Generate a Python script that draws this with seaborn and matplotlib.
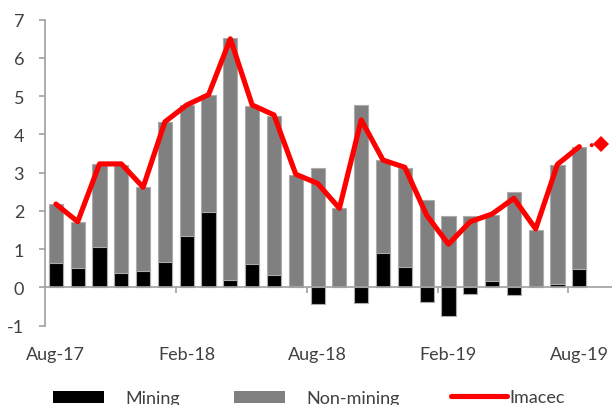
import numpy as np
import pandas as pd
import matplotlib
matplotlib.use("Agg")
import matplotlib.pyplot as plt
import seaborn as sns
from matplotlib.patches import Patch
from matplotlib.lines import Line2D

# ---- data ----
months = ["Aug-17", "Sep-17", "Oct-17", "Nov-17", "Dec-17", "Jan-18", "Feb-18",
          "Mar-18", "Apr-18", "May-18", "Jun-18", "Jul-18", "Aug-18", "Sep-18",
          "Oct-18", "Nov-18", "Dec-18", "Jan-19", "Feb-19", "Mar-19", "Apr-19",
          "May-19", "Jun-19", "Jul-19", "Aug-19"]
forecast_month = "Sep-19"
mining = [0.64, 0.52, 1.07, 0.37, 0.42, 0.66, 1.35, 1.96, 0.19, 0.61, 0.32, 0.04,
          -0.42, 0.02, -0.41, 0.90, 0.54, -0.37, -0.74, -0.17, 0.17, -0.20, 0.02,
          0.09, 0.48]
non_mining = [1.54, 1.20, 2.16, 2.84, 2.20, 3.66, 3.42, 3.08, 6.32, 4.14, 4.17, 2.91,
              3.11, 2.05, 4.77, 2.43, 2.57, 2.28, 1.87, 1.87, 1.72, 2.50, 1.49,
              3.11, 3.20]
imacec = [2.18, 1.72, 3.23, 3.23, 2.62, 4.33, 4.77, 5.04, 6.50, 4.77, 4.51, 2.96,
          2.72, 2.07, 4.38, 3.33, 3.14, 1.89, 1.13, 1.72, 1.92, 2.33, 1.53, 3.22,
          3.68]
imacec_forecast = 3.75
tick_labels = ["Aug-17", "Feb-18", "Aug-18", "Feb-19", "Aug-19"]
y_ticks = [-1, 0, 1, 2, 3, 4, 5, 6, 7]

# ---- style ----
sns.set_theme(style="white")
plt.rcParams["font.family"] = ["Lato", "DejaVu Sans"]
TXT = "#404040"
AX = "#A0A0A0"
RED = "#FF0000"
FS = 13

all_months = months + [forecast_month]
df = pd.DataFrame({"month": months, "mining": mining, "non_mining": non_mining})
# top of the stacked grey part: non-mining sits on mining only when mining > 0
df["grey_top"] = df["non_mining"] + df["mining"].clip(lower=0)

fig = plt.figure(figsize=(6.12, 4.06), dpi=100)
ax = fig.add_axes([45 / 612, 1 - 326.7 / 406, 567 / 612, 306 / 406])

sns.barplot(data=df, x="month", y="grey_top", order=all_months, color="#808080",
            saturation=1, width=0.65, errorbar=None, edgecolor="#ABABAB",
            linewidth=0.8, ax=ax)
sns.barplot(data=df, x="month", y="mining", order=all_months, color="#000000",
            saturation=1, width=0.65, errorbar=None, edgecolor="#ABABAB",
            linewidth=0.8, ax=ax)

pos = np.arange(len(months))
sns.lineplot(x=pos, y=imacec, color=RED, linewidth=3.7, ax=ax,
             solid_joinstyle="round", solid_capstyle="round")
fc = pd.DataFrame({"x": [pos[-1], len(months)], "y": [imacec[-1], imacec_forecast]})
sns.lineplot(data=fc, x="x", y="y", color=RED, linewidth=3.0, ax=ax,
             linestyle=(0, (0.01, 3)), dash_capstyle="round",
             marker="D", markersize=8, markevery=[1], markeredgewidth=0)

ax.set_xlim(-0.5, len(all_months) - 0.5)
ax.set_ylim(-1, 7)
ax.set_xlabel("")
ax.set_ylabel("")

# axes styling
for s in ["top", "right"]:
    ax.spines[s].set_visible(False)
ax.spines["left"].set_color(AX)
ax.spines["left"].set_linewidth(1.2)
ax.spines["bottom"].set_color(AX)
ax.spines["bottom"].set_linewidth(1.2)
ax.spines["bottom"].set_position(("data", 0))

ax.set_yticks(y_ticks)
ax.set_yticklabels([str(v) for v in y_ticks])
ax.tick_params(axis="y", direction="out", length=4, width=1.2, color=AX,
               pad=11, labelsize=FS, labelcolor=TXT, left=True)

lab_pos = [all_months.index(m) for m in tick_labels]
ax.set_xticks(lab_pos)
ax.set_xticklabels(tick_labels)
ax.tick_params(axis="x", which="major", length=0, pad=42, labelsize=FS,
               labelcolor=TXT, bottom=True)
ax.set_xticks([p - 0.5 for p in lab_pos[1:]], minor=True)
ax.tick_params(axis="x", which="minor", direction="out", length=4, width=1.2,
               color=AX, bottom=True)
ax.grid(False)

# legends
h1 = [Patch(facecolor="#000000", edgecolor="none"),
      Patch(facecolor="#808080", edgecolor="none")]
leg1 = fig.legend(h1, ["Mining", "Non-mining"], loc="center left",
                  bbox_to_anchor=(53 / 612, 1 - 399 / 406), ncol=2, frameon=False,
                  fontsize=FS, handlelength=2.85, handleheight=0.65,
                  handletextpad=1.15, columnspacing=3.0, borderpad=0,
                  borderaxespad=0, labelcolor=TXT)
h2 = [Line2D([0], [0], color=RED, linewidth=3.7, solid_capstyle="round")]
leg2 = fig.legend(h2, ["Imacec"], loc="center left",
                  bbox_to_anchor=(451 / 612, 1 - 398 / 406), frameon=False,
                  fontsize=FS, handlelength=3.1, handletextpad=0.15, borderpad=0,
                  borderaxespad=0, labelcolor=TXT)

fig.savefig("out.png", dpi=100)
